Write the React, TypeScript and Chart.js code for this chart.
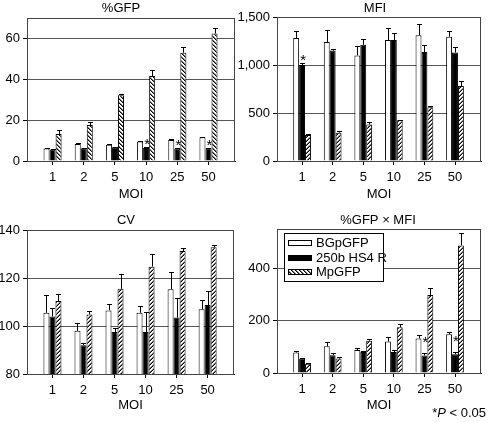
import React, { useEffect, useRef } from 'react';
import { Chart, registerables } from 'chart.js';
Chart.register(...registerables);

const MOI = ['1', '2', '5', '10', '25', '50'];
const SERIES = ['BGpGFP', '250b HS4 R', 'MpGFP'];

// %GFP
const gfpBG = [6.1, 8.3, 7.9, 9.6, 10.3, 11.6];
const gfpBGErr = [0.3, 0.4, 0.3, 0.4, 0.4, 0.3];
const gfpHS4 = [5.6, 6.2, 6.7, 6.4, 6.1, 6.3];
const gfpHS4Err = [0.3, 0.4, 0.3, 0.3, 0.3, 0.3];
const gfpMp = [13.2, 17.6, 32.2, 41.6, 53.0, 62.4];
const gfpMpErr = [2.0, 1.6, 0.6, 2.8, 2.8, 2.5];
const gfpStars = [0, 0, 0, 1, 1, 1];

// MFI
const mfiBG = [1280, 1240, 1100, 1260, 1310, 1295];
const mfiBGErr = [70, 125, 95, 130, 120, 60];
const mfiHS4 = [1000, 1150, 1210, 1260, 1135, 1130];
const mfiHS4Err = [20, 15, 60, 75, 75, 60];
const mfiMp = [270, 295, 380, 425, 560, 780];
const mfiMpErr = [8, 20, 25, 5, 15, 50];
const mfiStars = [1, 0, 0, 0, 0, 0];

// CV
const cvBG = [105.5, 98, 106.5, 105.5, 115.3, 107];
const cvBGErr = [7.5, 3.2, 2.8, 2.8, 7, 4];
const cvHS4 = [104, 92, 97.5, 97.5, 103.5, 108.7];
const cvHS4Err = [3.4, 1.1, 1.7, 8.3, 8, 5.8];
const cvMp = [110.4, 104.8, 115.5, 124.7, 131.2, 132.8];
const cvMpErr = [2.8, 1.4, 6, 5.4, 1.2, 0.8];
const cvStars = [0, 0, 0, 0, 0, 0];

// %GFP x MFI
const prodBG = [78, 102, 88, 120, 132, 148];
const prodBGErr = [6, 18, 9, 18, 14, 10];
const prodHS4 = [55, 68, 80, 80, 67, 72];
const prodHS4Err = [3, 8, 3, 6, 10, 8];
const prodMp = [35, 55, 123, 175, 298, 487];
const prodMpErr = [5, 7, 5, 12, 25, 48];
const prodStars = [0, 0, 0, 0, 1, 1];

const FONT = "'Liberation Sans', Arial, sans-serif";

type Panel = {
  left: number; top: number; w: number; h: number;
  yW: number; pr: number; pt: number; xH: number;
  ymin: number; ymax: number; step: number;
  title: string; titleX: number; titleY: number;
  values: number[][]; errors: number[][];
  stars: number[]; starLift: number;
  hatch: 'back' | 'fwd';
  legend?: boolean; footnote?: boolean;
  comma?: boolean;
};

const panels: Panel[] = [
  {
    left: 0, top: 0, w: 244, h: 211, yW: 27, pr: 9, pt: 18, xH: 50,
    ymin: 0, ymax: 70, step: 20, title: '%GFP', titleX: 121, titleY: 8,
    values: [gfpBG, gfpHS4, gfpMp], errors: [gfpBGErr, gfpHS4Err, gfpMpErr],
    stars: gfpStars, starLift: 0, hatch: 'back',
  },
  {
    left: 236, top: 0, w: 252, h: 211, yW: 41, pr: 7, pt: 17, xH: 50,
    ymin: 0, ymax: 1500, step: 500, title: 'MFI', titleX: 139, titleY: 8,
    values: [mfiBG, mfiHS4, mfiMp], errors: [mfiBGErr, mfiHS4Err, mfiMpErr],
    stars: mfiStars, starLift: 0, hatch: 'fwd', comma: true,
  },
  {
    left: 0, top: 211, w: 244, h: 211, yW: 27, pr: 10, pt: 19, xH: 48,
    ymin: 80, ymax: 140, step: 20, title: 'CV', titleX: 126, titleY: 9,
    values: [cvBG, cvHS4, cvMp], errors: [cvBGErr, cvHS4Err, cvMpErr],
    stars: cvStars, starLift: 0, hatch: 'fwd',
  },
  {
    left: 236, top: 211, w: 252, h: 211, yW: 41, pr: 7, pt: 18, xH: 49,
    ymin: 0, ymax: 550, step: 200, title: '%GFP \u00d7 MFI', titleX: 142, titleY: 9,
    values: [prodBG, prodHS4, prodMp], errors: [prodBGErr, prodHS4Err, prodMpErr],
    stars: prodStars, starLift: 8, hatch: 'fwd', legend: true, footnote: true,
  },
];

function makePattern(dir: 'back' | 'fwd'): CanvasPattern | string {
  const c = document.createElement('canvas');
  c.width = 4; c.height = 4;
  const g = c.getContext('2d');
  if (!g) return '#888';
  g.fillStyle = '#fff';
  g.fillRect(0, 0, 4, 4);
  for (let i = 0; i < 4; i++) {
    const x = dir === 'back' ? i : 3 - i;
    g.fillStyle = '#000';
    g.fillRect(x, i, 1, 1);
    g.fillStyle = '#777';
    g.fillRect(dir === 'back' ? (x + 1) % 4 : (x + 3) % 4, i, 1, 1);
  }
  return g.createPattern(c, 'repeat') || '#888';
}

function PanelChart({ p }: { p: Panel }) {
  const ref = useRef<HTMLCanvasElement>(null);
  useEffect(() => {
    const canvas = ref.current;
    if (!canvas) return;
    const hatchMain = makePattern(p.hatch);
    const hatchLegend = makePattern('back');
    const fills = ['#ffffff', '#000000', hatchMain];
    const datasets = p.values.map((vals, d) => ({
      label: SERIES[d],
      data: vals.map((v, i) => ({ x: i, y: v })),
      backgroundColor: fills[d] as any,
      borderColor: '#000',
      borderWidth: 1,
      barPercentage: 1,
      categoryPercentage: 0.58,
    }));

    const framePlugin = {
      id: 'frame',
      beforeDatasetsDraw(chart: any) {
        const { ctx, chartArea: a } = chart;
        ctx.save();
        ctx.strokeStyle = '#444';
        ctx.lineWidth = 1;
        ctx.strokeRect(Math.round(a.left) + 0.5, Math.round(a.top) + 0.5, Math.round(a.right - a.left) - 1, Math.round(a.bottom - a.top));
        ctx.restore();
      },
    };

    const errPlugin = {
      id: 'errs',
      afterDatasetsDraw(chart: any) {
        const { ctx } = chart;
        const ys = chart.scales.y;
        ctx.save();
        ctx.strokeStyle = '#000';
        ctx.lineWidth = 1;
        p.values.forEach((vals, d) => {
          const meta = chart.getDatasetMeta(d);
          meta.data.forEach((el: any, i: number) => {
            const x = Math.round(el.x) + 0.5;
            const y0 = el.y;
            const y1 = Math.round(ys.getPixelForValue(vals[i] + p.errors[d][i])) + 0.5;
            ctx.beginPath();
            ctx.moveTo(x, y0);
            ctx.lineTo(x, y1);
            ctx.moveTo(x - 2.5, y1);
            ctx.lineTo(x + 2.5, y1);
            ctx.stroke();
            if (d === 1 && p.stars[i]) {
              ctx.fillStyle = '#000';
              ctx.font = `15px ${FONT}`;
              ctx.textAlign = 'center';
              ctx.textBaseline = 'alphabetic';
              ctx.fillText('*', el.x + 1, y1 + 1 - p.starLift);
            }
          });
        });
        ctx.restore();
      },
    };

    const textPlugin = {
      id: 'texts',
      afterDraw(chart: any) {
        const { ctx } = chart;
        ctx.save();
        ctx.fillStyle = '#000';
        ctx.font = `13px ${FONT}`;
        ctx.textAlign = 'center';
        ctx.textBaseline = 'middle';
        ctx.fillText(p.title, p.titleX, p.titleY);
        if (p.legend) {
          const bx = 48, by = 22, bw = 99, bh = 48;
          ctx.fillStyle = '#fff';
          ctx.fillRect(bx, by, bw, bh);
          ctx.strokeStyle = '#000';
          ctx.lineWidth = 1;
          ctx.strokeRect(bx + 0.5, by + 0.5, bw, bh);
          const legendFills = ['#ffffff', '#000000', hatchLegend];
          SERIES.forEach((s, k) => {
            const cy = by + 10 + k * 14.5;
            ctx.fillStyle = legendFills[k] as any;
            ctx.fillRect(bx + 4, Math.round(cy - 3), 24, 6);
            ctx.strokeStyle = '#000';
            ctx.strokeRect(bx + 4.5, Math.round(cy - 3) + 0.5, 23, 5);
            ctx.fillStyle = '#000';
            ctx.textAlign = 'left';
            ctx.textBaseline = 'middle';
            ctx.fillText(s, bx + 32, cy + 0.5);
          });
        }
        if (p.footnote) {
          const parts: [string, string][] = [['*', 'normal'], ['P', 'italic'], [' < 0.05', 'normal']];
          const widths = parts.map(([t, st]) => {
            ctx.font = `${st} 13px ${FONT}`;
            return ctx.measureText(t).width;
          });
          let x = 250 - widths.reduce((a, b) => a + b, 0);
          ctx.textAlign = 'left';
          ctx.textBaseline = 'alphabetic';
          parts.forEach(([t, st], k) => {
            ctx.font = `${st} 13px ${FONT}`;
            ctx.fillText(t, x, 206);
            x += widths[k];
          });
        }
        ctx.restore();
      },
    };

    const chart = new Chart(canvas, {
      type: 'bar',
      data: { datasets: datasets as any },
      options: {
        animation: false,
        responsive: false,
        devicePixelRatio: 1,
        layout: { padding: { left: 0, right: p.pr, top: p.pt, bottom: 0 } },
        plugins: { legend: { display: false }, tooltip: { enabled: false }, title: { display: false } },
        scales: {
          x: {
            type: 'linear',
            offset: false,
            min: -0.82,
            max: 5.85,
            afterBuildTicks: (s: any) => { s.ticks = MOI.map((_, i) => ({ value: i })); },
            afterFit: (s: any) => { s.height = p.xH; },
            ticks: {
              callback: (v: any) => MOI[Number(v)] ?? '',
              autoSkip: false, maxRotation: 0, minRotation: 0, padding: 5,
              color: '#000', font: { family: FONT, size: 13 },
            },
            grid: { offset: false, drawOnChartArea: false, drawTicks: true, tickLength: 4, color: '#000' },
            border: { color: '#000' },
            title: { display: true, text: 'MOI', color: '#000', font: { family: FONT, size: 13 }, padding: { top: 0, bottom: 9 } },
          },
          y: {
            min: p.ymin,
            max: p.ymax,
            afterFit: (s: any) => { s.width = p.yW; },
            ticks: {
              stepSize: p.step, includeBounds: false, padding: 3,
              color: '#000', font: { family: FONT, size: 13 },
              callback: (v: any) => (p.comma ? Number(v).toLocaleString('en-US') : String(v)),
            },
            grid: { color: '#555', tickLength: 4, tickColor: '#000' },
            border: { color: '#000' },
          },
        },
      } as any,
      plugins: [framePlugin, errPlugin, textPlugin],
    });
    return () => chart.destroy();
  }, []);
  return (
    <canvas
      ref={ref}
      width={p.w}
      height={p.h}
      style={{ position: 'absolute', left: p.left, top: p.top, width: p.w, height: p.h }}
    />
  );
}

export default function App() {
  return (
    <div style={{ position: 'fixed', left: 0, top: 0, width: 488, height: 422, background: '#fff', overflow: 'hidden' }}>
      {panels.map((p, k) => <PanelChart key={k} p={p} />)}
    </div>
  );
}
